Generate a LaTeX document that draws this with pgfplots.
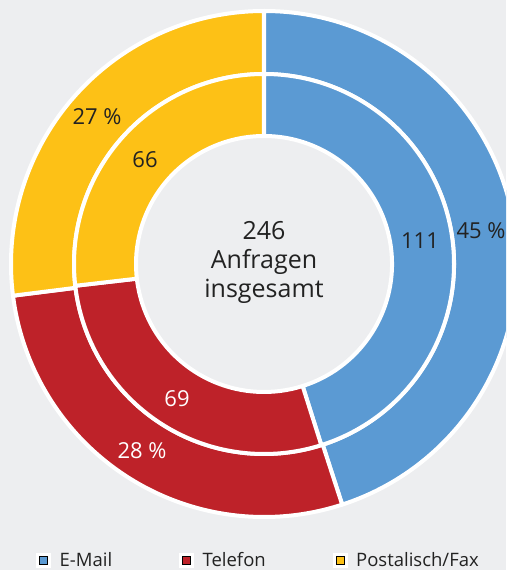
\documentclass[border=0pt]{standalone}
\usepackage{pgfplots}
\pgfplotsset{compat=1.18}
\usepackage{pgfplotstable}
\usepackage{fontspec}
\setmainfont{Open Sans}
\definecolor{bgc}{HTML}{EDEEF0}
\definecolor{cmail}{HTML}{5B9AD3}
\definecolor{ctel}{HTML}{BE2229}
\definecolor{cpost}{HTML}{FDC116}
\definecolor{txt}{HTML}{222222}

\pgfplotstableread{
cat value pct
E-Mail 111 45
Telefon 69 28
Postalisch/Fax 66 27
}\datatable

\pgfplotstablegetelem{0}{value}\of\datatable \let\vA\pgfplotsretval
\pgfplotstablegetelem{1}{value}\of\datatable \let\vB\pgfplotsretval
\pgfplotstablegetelem{2}{value}\of\datatable \let\vC\pgfplotsretval
\pgfplotstablegetelem{0}{pct}\of\datatable \let\pA\pgfplotsretval
\pgfplotstablegetelem{1}{pct}\of\datatable \let\pB\pgfplotsretval
\pgfplotstablegetelem{2}{pct}\of\datatable \let\pC\pgfplotsretval
\pgfmathsetmacro\total{\vA+\vB+\vC}
\pgfmathsetmacro\ptotal{\pA+\pB+\pC}
% outer ring angles (percent)
\pgfmathsetmacro\oA{90}
\pgfmathsetmacro\oB{\oA-\pA/\ptotal*360}
\pgfmathsetmacro\oC{\oB-\pB/\ptotal*360}
\pgfmathsetmacro\oD{\oC-\pC/\ptotal*360}
% inner ring angles (counts)
\pgfmathsetmacro\iA{90}
\pgfmathsetmacro\iB{\iA-\vA/\total*360}
\pgfmathsetmacro\iC{\iB-\vB/\total*360}
\pgfmathsetmacro\iD{\iC-\vC/\total*360}

\newcommand\ring[5]{% color, a1, a2, r, R
  \filldraw[fill=#1, draw=white, line width=4pt, line join=round]
   (axis cs:{#5*cos(#2)},{#5*sin(#2)}) arc[start angle=#2, end angle=#3, radius=#5pt]
   -- (axis cs:{#4*cos(#3)},{#4*sin(#3)}) arc[start angle=#3, end angle=#2, radius=#4pt] -- cycle;}

\begin{document}
\begin{tikzpicture}
\path[use as bounding box] (0,0) rectangle (506pt,570pt);
\begin{axis}[
  x=1pt, y=1pt,
  xmin=-264, xmax=242, ymin=-306, ymax=264,
  hide axis,
  clip=true,
  legend columns=3,
  legend style={at={(33/506,10/570)}, anchor=west, draw=none, fill=none,
    font=\fontsize{18.5}{20}\selectfont\color{txt},
    nodes={inner sep=0pt},
    /tikz/every odd column/.append style={column sep=9pt},
    /tikz/every even column/.append style={column sep=67pt}},
]
\fill[bgc] (axis cs:-264,-306) rectangle (axis cs:242,264);
% outer ring
\ring{cmail}{\oA}{\oB}{190}{253}
\ring{ctel}{\oB}{\oC}{190}{253}
\ring{cpost}{\oC}{\oD}{190}{253}
% inner ring
\ring{cmail}{\iA}{\iB}{128}{190}
\ring{ctel}{\iB}{\iC}{128}{190}
\ring{cpost}{\iC}{\iD}{128}{190}
% labels
\begin{scope}[font=\fontsize{22}{24}\selectfont]
\node[txt] at (axis cs:217,33) {45 \%};
\node[txt] at (axis cs:156,23) {111};
\node[txt] at (axis cs:-167,147) {27 \%};
\node[txt] at (axis cs:-119,104) {66};
\node[white] at (axis cs:-87,-135) {69};
\node[white] at (axis cs:-122,-187) {28 \%};
\end{scope}
\node[txt, align=center, font=\fontsize{25}{29}\selectfont] at (axis cs:0,2) {246\\Anfragen\\insgesamt};
\addlegendimage{fill=cmail, legend image code/.code={\fill[white] (0pt,-7pt) rectangle (14pt,7pt); \fill (3pt,-4pt) rectangle (11pt,4pt);}}
\addlegendentry{E-Mail}
\addlegendimage{fill=ctel, legend image code/.code={\fill[white] (0pt,-7pt) rectangle (14pt,7pt); \fill (3pt,-4pt) rectangle (11pt,4pt);}}
\addlegendentry{Telefon}
\addlegendimage{fill=cpost, legend image code/.code={\fill[white] (0pt,-7pt) rectangle (14pt,7pt); \fill (3pt,-4pt) rectangle (11pt,4pt);}}
\addlegendentry{Postalisch/Fax}
\end{axis}
\end{tikzpicture}
\end{document}
